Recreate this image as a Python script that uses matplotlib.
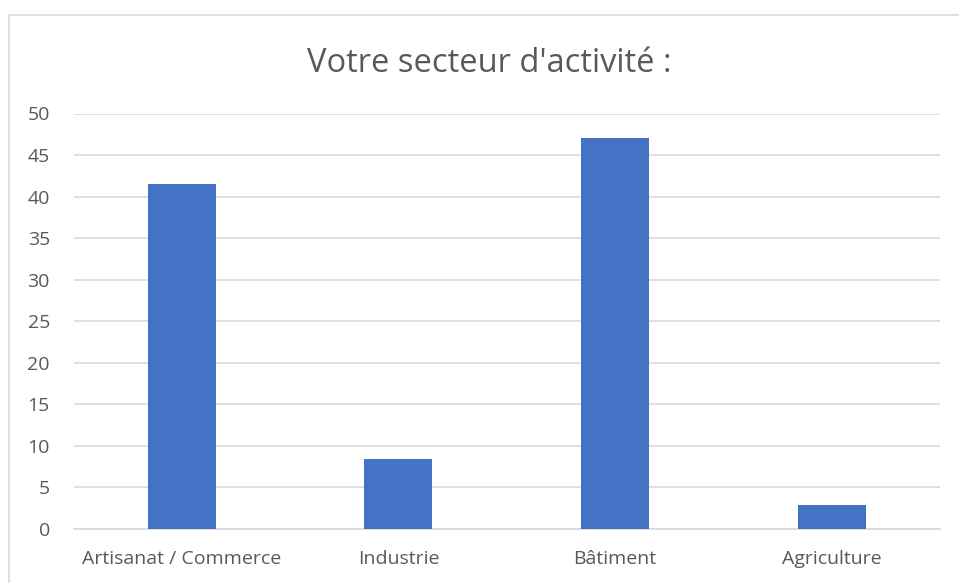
import matplotlib.pyplot as plt
from matplotlib.patches import Rectangle

# Donnees du graphique
secteurs = ['Artisanat / Commerce', 'Industrie', 'Bâtiment', 'Agriculture']
valeurs = [41.5, 8.4, 47.0, 2.9]
graduations = [0, 5, 10, 15, 20, 25, 30, 35, 40, 45, 50]

plt.rcParams['font.family'] = ['Open Sans', 'DejaVu Sans']

fig = plt.figure(figsize=(9.59, 5.83), dpi=100)
W, H = 959, 583
ax = fig.add_axes([73.5 / W, (H - 529) / H, 866.5 / W, (529 - 113.5) / H])

# Bordure grise du cadre (coupee a droite et en bas)
fig.patches.append(Rectangle((8.5 / W, -0.1), 1.2, (H - 15.5) / H + 0.1,
                             transform=fig.transFigure, fill=False,
                             edgecolor='#d9d9d9', linewidth=1.2))

x = range(len(secteurs))
ax.bar(x, valeurs, width=0.314, color='#4472C4', zorder=3)

ax.set_xlim(-0.5, len(secteurs) - 0.5)
ax.set_ylim(0, 50)
ax.set_yticks(graduations)
ax.set_xticks(list(x))
ax.set_xticklabels(secteurs)
ax.grid(axis='y', color='#d9d9d9', linewidth=1.2, zorder=0)
for s in ['top', 'right', 'left']:
    ax.spines[s].set_visible(False)
ax.spines['bottom'].set_color('#d9d9d9')
ax.spines['bottom'].set_linewidth(1.2)
ax.tick_params(axis='both', length=0, labelsize=14, colors='#595959')
ax.tick_params(axis='x', pad=15)
ax.tick_params(axis='y', pad=17)

fig.text(489 / W, 1 - 71.7 / H, "Votre secteur d'activité :", ha='center', va='baseline',
         fontsize=23.5, color='#595959')

plt.savefig('out.png', dpi=100)
